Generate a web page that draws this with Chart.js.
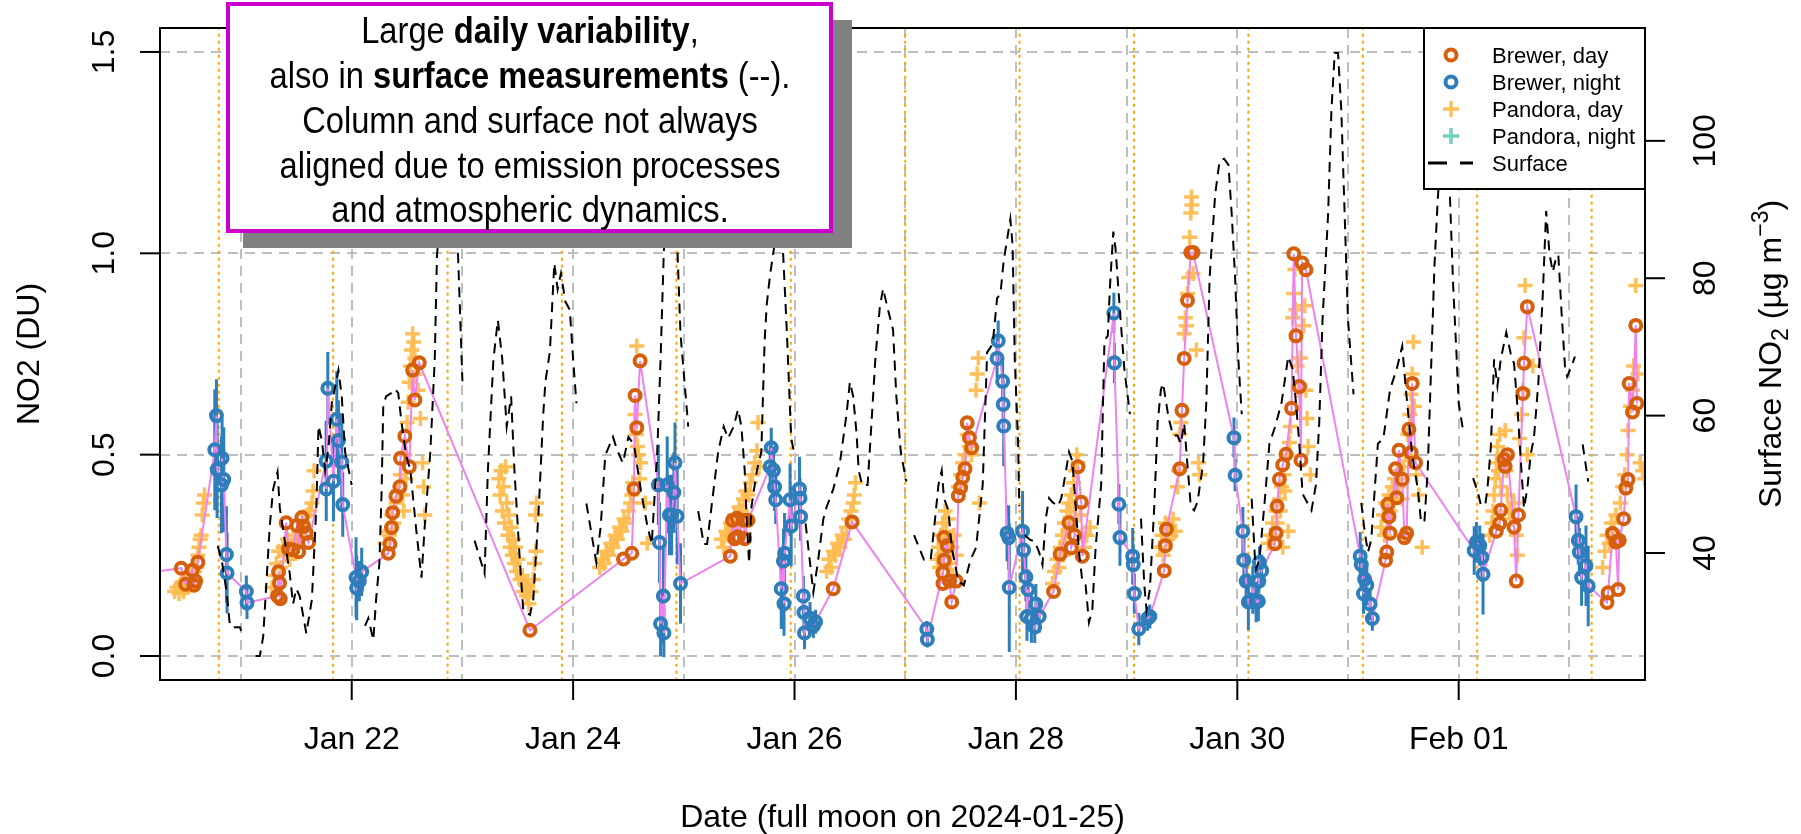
<!DOCTYPE html>
<html>
<head>
<meta charset="utf-8">
<title>NO2 column and surface</title>
<script src="https://cdn.jsdelivr.net/npm/chart.js@4.4.1/dist/chart.umd.min.js"></script>
<style>
html, body { margin: 0; padding: 0; background: #fff; }
#wrap { width: 1801px; height: 834px; }
</style>
</head>
<body>
<div id="wrap"><canvas id="no2Chart" width="1801" height="834"></canvas></div>
<script>
// time axis = days since 2024-01-20 00:00
const xTickDays = [2, 4, 6, 8, 10, 12];
const xTickLabels = ['Jan 22', 'Jan 24', 'Jan 26', 'Jan 28', 'Jan 30', 'Feb 01'];
const gridDays = [1, 2, 3, 4, 5, 6, 7, 8, 9, 10, 11, 12, 13];
const yTickVals = [0, 0.5, 1.0, 1.5];
const yTickLabels = ['0.0', '0.5', '1.0', '1.5'];
const y2TickVals = [40, 60, 80, 100];
const y2TickLabels = ['40', '60', '80', '100'];

// moon transit lines (orange dotted)
const moonTimes = [0.799, 1.832, 2.866, 3.899, 4.933, 5.966, 7.000, 8.033, 9.067, 10.100, 11.134, 12.167, 13.201];

// Brewer, day
const brewerDayTime = [
  0.10,
  0.46, 0.50, 0.56, 0.575, 0.59, 0.61,
  1.33, 1.339, 1.348, 1.354, 1.408, 1.429, 1.468, 1.505, 1.52, 1.55, 1.565, 1.589, 1.61,
  2.33, 2.345, 2.36, 2.37, 2.40, 2.435, 2.44, 2.48, 2.52, 2.55, 2.57, 2.61,
  3.61,
  4.455, 4.53, 4.55, 4.56, 4.575, 4.605,
  5.42, 5.44, 5.46, 5.48, 5.49, 5.54, 5.55, 5.58,
  6.35, 6.52,
  7.34, 7.341, 7.35, 7.352, 7.38, 7.40, 7.42, 7.46, 7.48, 7.50, 7.52, 7.54, 7.56, 7.58, 7.60,
  8.34, 8.40, 8.48, 8.50, 8.53, 8.56, 8.59, 8.60,
  9.34, 9.35, 9.36, 9.48, 9.50, 9.52, 9.55, 9.58, 9.60,
  10.34, 10.35, 10.36, 10.38, 10.41, 10.44, 10.49, 10.51, 10.53, 10.56, 10.575, 10.585, 10.62,
  11.34, 11.35, 11.36, 11.37, 11.38, 11.43, 11.44, 11.46, 11.49, 11.51, 11.53, 11.55, 11.57, 11.58, 11.61,
  12.34, 12.37, 12.38, 12.41, 12.42, 12.44, 12.50, 12.52, 12.54, 12.58, 12.59, 12.62,
  13.34, 13.35, 13.39, 13.42, 13.44, 13.45, 13.49, 13.51, 13.53, 13.54, 13.57, 13.60, 13.61
];
const brewerDayNO2 = [
  0.205,
  0.218, 0.178, 0.213, 0.176, 0.186, 0.233,
  0.149, 0.209, 0.181, 0.142, 0.331, 0.266, 0.264, 0.324, 0.259, 0.344, 0.322, 0.305, 0.282,
  0.255, 0.278, 0.319, 0.356, 0.397, 0.42, 0.491, 0.546, 0.47, 0.71, 0.636, 0.728,
  0.064,
  0.241, 0.255, 0.415, 0.647, 0.567, 0.733,
  0.248, 0.337, 0.291, 0.342, 0.296, 0.337, 0.291, 0.337,
  0.167, 0.333,
  0.207, 0.18, 0.294, 0.238, 0.274, 0.186, 0.134, 0.186, 0.398, 0.418, 0.444, 0.465, 0.579, 0.542, 0.517,
  0.16, 0.253, 0.331, 0.269, 0.30, 0.47, 0.382, 0.248,
  0.212, 0.274, 0.315, 0.465, 0.61, 0.739, 0.883, 1.002, 1.002,
  0.279, 0.305, 0.372, 0.439, 0.475, 0.501, 0.615, 0.999, 0.795, 0.669, 0.486, 0.976, 0.959,
  0.238, 0.258, 0.377, 0.346, 0.305, 0.465, 0.393, 0.511, 0.439, 0.294, 0.305, 0.563, 0.505, 0.677, 0.48,
  0.31, 0.329, 0.362, 0.488, 0.471, 0.5, 0.32, 0.186, 0.35, 0.652, 0.727, 0.867,
  0.133, 0.157, 0.304, 0.283, 0.165, 0.287, 0.341, 0.417, 0.438, 0.677, 0.606, 0.821, 0.627
];

// Brewer, night (with uncertainty)
const brewerNightTime = [
  0.763, 0.778, 0.784, 0.823, 0.829, 0.844, 0.868, 0.874, 1.048, 1.054,
  1.769, 1.770, 1.784, 1.835, 1.865, 1.880, 1.910, 1.919,
  2.039, 2.045, 2.069, 2.090,
  4.77, 4.78, 4.79, 4.815, 4.82, 4.85, 4.87, 4.89, 4.91, 4.92, 4.94, 4.97,
  5.78, 5.79, 5.81, 5.82, 5.83, 5.88, 5.90, 5.905, 5.91, 5.96, 5.97, 6.045, 6.05, 6.055, 6.08, 6.085, 6.09, 6.14, 6.17, 6.19,
  7.195, 7.20,
  7.83, 7.84, 7.88, 7.885, 7.89, 7.92, 7.935, 7.94, 8.06, 8.07, 8.09, 8.10, 8.11, 8.14, 8.17, 8.18, 8.21,
  8.885, 8.89, 8.93, 8.94, 9.055, 9.06, 9.07, 9.11, 9.19, 9.21,
  9.97, 9.98, 10.05, 10.06, 10.08, 10.10, 10.14, 10.17, 10.19, 10.195, 10.20, 10.22,
  11.11, 11.12, 11.14, 11.15, 11.17, 11.20, 11.22,
  12.14, 12.16, 12.19, 12.21, 12.22,
  13.06, 13.08, 13.09, 13.11, 13.15, 13.17
];
const brewerNightNO2 = [
  0.512, 0.597, 0.463, 0.425, 0.491, 0.438, 0.252, 0.206, 0.160, 0.132,
  0.484, 0.415, 0.665, 0.434, 0.588, 0.535, 0.482, 0.376,
  0.195, 0.169, 0.186, 0.209,
  0.425, 0.282, 0.080, 0.149, 0.057, 0.425, 0.350, 0.350, 0.406, 0.480, 0.347, 0.180,
  0.470, 0.517, 0.461, 0.420, 0.388, 0.167, 0.236, 0.130, 0.255, 0.388, 0.323, 0.415, 0.392, 0.346, 0.149, 0.108, 0.057, 0.094, 0.075, 0.085,
  0.067, 0.041,
  0.739, 0.783, 0.682, 0.625, 0.571, 0.305, 0.294, 0.170, 0.310, 0.263, 0.196, 0.098, 0.165, 0.093, 0.072, 0.129, 0.098,
  0.852, 0.728, 0.377, 0.294, 0.248, 0.227, 0.155, 0.067, 0.093, 0.098,
  0.542, 0.449, 0.310, 0.238, 0.186, 0.134, 0.165, 0.134, 0.136, 0.186, 0.232, 0.212,
  0.248, 0.227, 0.155, 0.191, 0.176, 0.129, 0.093,
  0.262, 0.283, 0.274, 0.245, 0.203,
  0.346, 0.287, 0.258, 0.195, 0.224, 0.174
];
const brewerNightErr = [
  0.15, 0.09, 0.12, 0.12, 0.10, 0.13, 0.12, 0.10, 0.04, 0.04,
  0.10, 0.08, 0.09, 0.10, 0.12, 0.10, 0.12, 0.08,
  0.10, 0.08, 0.05, 0.06,
  0.10, 0.10, 0.08, 0.12, 0.06, 0.12, 0.10, 0.10, 0.10, 0.10, 0.12, 0.10,
  0.06, 0.05, 0.06, 0.06, 0.06, 0.10, 0.08, 0.08, 0.10, 0.09, 0.10, 0.08, 0.05, 0.06, 0.05, 0.05, 0.04, 0.04, 0.03, 0.03,
  0.02, 0.02,
  0.05, 0.05, 0.05, 0.06, 0.10, 0.07, 0.08, 0.16, 0.10, 0.06, 0.06, 0.06, 0.05, 0.06, 0.04, 0.05, 0.04,
  0.05, 0.05, 0.05, 0.07, 0.07, 0.05, 0.05, 0.04, 0.03, 0.03,
  0.05, 0.04, 0.06, 0.06, 0.06, 0.07, 0.06, 0.05, 0.05, 0.05, 0.04, 0.04,
  0.06, 0.05, 0.05, 0.05, 0.05, 0.04, 0.03,
  0.06, 0.05, 0.05, 0.06, 0.10,
  0.08, 0.06, 0.06, 0.07, 0.10, 0.10
];

// Pandora, day
const pandoraDayTime = [
  0.40, 0.42, 0.44, 0.46, 0.48, 0.50, 0.52, 0.54, 0.56, 0.58, 0.60, 0.61, 0.62, 0.63, 0.64, 0.65, 0.66, 0.67,
  1.28, 1.30, 1.32, 1.34, 1.36, 1.38, 1.40, 1.42, 1.44, 1.46, 1.48, 1.50, 1.52, 1.54, 1.56, 1.58, 1.60, 1.62, 1.64, 1.65, 1.66,
  2.30, 2.32, 2.34, 2.36, 2.38, 2.40, 2.42, 2.44, 2.46, 2.47, 2.48, 2.49, 2.50, 2.51, 2.52, 2.53, 2.54, 2.55, 2.56, 2.57, 2.58, 2.60, 2.62, 2.64, 2.65, 2.66,
  3.33, 3.34, 3.35, 3.36, 3.37, 3.38, 3.39, 3.40, 3.41, 3.42, 3.43, 3.44, 3.45, 3.46, 3.47, 3.48, 3.49, 3.50, 3.52, 3.54, 3.55, 3.56, 3.58, 3.59, 3.60, 3.62, 3.64, 3.65, 3.66, 3.665, 3.67,
  4.24, 4.26, 4.28, 4.30, 4.32, 4.34, 4.36, 4.38, 4.40, 4.42, 4.44, 4.46, 4.48, 4.50, 4.52, 4.53, 4.54, 4.56, 4.57, 4.575, 4.58, 4.59, 4.60, 4.61, 4.65, 4.67,
  5.34, 5.36, 5.38, 5.40, 5.42, 5.44, 5.46, 5.48, 5.50, 5.52, 5.54, 5.56, 5.58, 5.60, 5.62, 5.64, 5.66, 5.67, 5.68,
  6.29, 6.31, 6.33, 6.35, 6.37, 6.39, 6.41, 6.43, 6.45, 6.47, 6.49, 6.51, 6.53, 6.54, 6.55,
  7.29, 7.30, 7.31, 7.32, 7.33, 7.34, 7.35, 7.36, 7.37, 7.38, 7.39, 7.40, 7.41, 7.42, 7.43, 7.44, 7.46, 7.48, 7.50, 7.52, 7.54, 7.56, 7.58, 7.60, 7.64, 7.65, 7.66, 7.67,
  8.33, 8.35, 8.37, 8.39, 8.40, 8.42, 8.43, 8.44, 8.45, 8.46, 8.47, 8.48, 8.49, 8.50, 8.52, 8.53, 8.54, 8.55, 8.56, 8.58, 8.60, 8.62, 8.64, 8.67,
  9.30, 9.32, 9.33, 9.35, 9.37, 9.38, 9.40, 9.42, 9.44, 9.46, 9.47, 9.48, 9.49, 9.52, 9.53, 9.54, 9.55, 9.56, 9.57, 9.58, 9.585, 9.59, 9.60, 9.63, 9.65, 9.66,
  10.28, 10.30, 10.32, 10.33, 10.35, 10.36, 10.38, 10.39, 10.40, 10.41, 10.42, 10.43, 10.45, 10.46, 10.47, 10.48, 10.50, 10.51, 10.52, 10.53, 10.54, 10.55, 10.57, 10.60, 10.61, 10.62, 10.63, 10.64, 10.66,
  11.30, 11.32, 11.33, 11.34, 11.36, 11.37, 11.38, 11.40, 11.41, 11.42, 11.44, 11.45, 11.46, 11.48, 11.49, 11.50, 11.52, 11.54, 11.56, 11.57, 11.58, 11.59, 11.60, 11.62, 11.64, 11.67,
  12.28, 12.30, 12.31, 12.32, 12.33, 12.34, 12.35, 12.36, 12.37, 12.38, 12.40, 12.42, 12.43, 12.44, 12.46, 12.48, 12.50, 12.52, 12.53, 12.55, 12.57, 12.58, 12.59, 12.60, 12.62, 12.67,
  13.30, 13.32, 13.34, 13.36, 13.38, 13.40, 13.42, 13.44, 13.46, 13.48, 13.50, 13.52, 13.53, 13.55, 13.57, 13.58, 13.60, 13.62, 13.64, 13.66, 13.68
];
const pandoraDayNO2 = [
  0.16, 0.17, 0.155, 0.18, 0.16, 0.19, 0.17, 0.20, 0.19, 0.21, 0.22, 0.25, 0.27, 0.29, 0.30, 0.35, 0.38, 0.40,
  0.17, 0.20, 0.23, 0.26, 0.22, 0.27, 0.25, 0.29, 0.24, 0.27, 0.30, 0.28, 0.31, 0.29, 0.33, 0.31, 0.35, 0.36, 0.38, 0.41, 0.46,
  0.28, 0.31, 0.30, 0.35, 0.33, 0.38, 0.41, 0.45, 0.40, 0.36, 0.50, 0.44, 0.58, 0.63, 0.68, 0.72, 0.76, 0.80, 0.78, 0.74, 0.70, 0.66, 0.59, 0.48, 0.42, 0.35,
  0.44, 0.40, 0.46, 0.36, 0.42, 0.33, 0.47, 0.38, 0.30, 0.35, 0.27, 0.32, 0.25, 0.29, 0.23, 0.27, 0.21, 0.24, 0.19, 0.20, 0.16, 0.18, 0.15, 0.17, 0.13, 0.16, 0.19, 0.23, 0.35, 0.26, 0.38,
  0.22, 0.24, 0.23, 0.26, 0.25, 0.28, 0.27, 0.30, 0.29, 0.32, 0.31, 0.34, 0.33, 0.36, 0.38, 0.40, 0.43, 0.60, 0.55, 0.77, 0.52, 0.50, 0.44, 0.48, 0.38, 0.28,
  0.29, 0.27, 0.31, 0.30, 0.33, 0.32, 0.35, 0.34, 0.37, 0.36, 0.39, 0.41, 0.40, 0.43, 0.45, 0.48, 0.51, 0.58, 0.47,
  0.21, 0.24, 0.22, 0.26, 0.25, 0.28, 0.27, 0.30, 0.29, 0.32, 0.34, 0.36, 0.38, 0.40, 0.43,
  0.24, 0.27, 0.22, 0.30, 0.25, 0.33, 0.28, 0.36, 0.31, 0.26, 0.34, 0.29, 0.23, 0.27, 0.20, 0.30, 0.25, 0.42, 0.45, 0.48, 0.50, 0.55, 0.52, 0.50, 0.66, 0.70, 0.74, 0.38,
  0.18, 0.21, 0.24, 0.22, 0.27, 0.30, 0.25, 0.33, 0.28, 0.36, 0.31, 0.38, 0.34, 0.40, 0.43, 0.37, 0.46, 0.50, 0.48, 0.35, 0.30, 0.27, 0.30, 0.32,
  0.27, 0.30, 0.25, 0.33, 0.29, 0.32, 0.30, 0.34, 0.31, 0.42, 0.46, 0.55, 0.58, 0.80, 0.84, 0.82, 0.90, 0.94, 1.04, 1.10, 1.14, 1.12, 0.95, 0.76, 0.48, 0.45,
  0.28, 0.30, 0.33, 0.30, 0.36, 0.33, 0.39, 0.36, 0.42, 0.27, 0.45, 0.41, 0.50, 0.31, 0.53, 0.57, 0.84, 0.90, 0.96, 0.86, 0.72, 0.66, 0.74, 0.82, 0.87, 0.66, 0.59, 0.52, 0.45,
  0.32, 0.35, 0.30, 0.38, 0.34, 0.40, 0.36, 0.42, 0.38, 0.44, 0.40, 0.46, 0.42, 0.44, 0.39, 0.47, 0.50, 0.55, 0.60, 0.65, 0.70, 0.78, 0.62, 0.45, 0.40, 0.27,
  0.30, 0.33, 0.36, 0.40, 0.44, 0.48, 0.52, 0.46, 0.55, 0.42, 0.50, 0.56, 0.46, 0.40, 0.36, 0.34, 0.38, 0.30, 0.25, 0.54, 0.60, 0.66, 0.79, 0.92, 0.50, 0.72,
  0.22, 0.26, 0.30, 0.28, 0.33, 0.31, 0.35, 0.29, 0.38, 0.42, 0.45, 0.50, 0.56, 0.62, 0.66, 0.72, 0.92, 0.70, 0.48, 0.46, 0.44
];

// Pandora, night (none in this period)
const pandoraNightTime = [];
const pandoraNightNO2 = [];

// Surface NO2 (ug m-3), null = no data
const surfaceTime = [
  0.79, 0.83, 0.87, 0.90, 0.92, 0.99, 1.02, 1.07,
  1.13, 1.17, 1.20, 1.23, 1.26, 1.29, 1.33, 1.35, 1.40, 1.44, 1.47, 1.50, 1.53, 1.59, 1.64, 1.68, 1.70, 1.73, 1.76, 1.79, 1.82, 1.88, 1.91, 1.94, 2.00, 2.06,
  2.12, 2.15, 2.195, 2.22, 2.25, 2.27, 2.285, 2.31, 2.36, 2.39, 2.42, 2.45, 2.49, 2.53, 2.58, 2.63, 2.66, 2.71, 2.75, 2.77, 2.83, 2.90, 2.96, 3.00, 3.05,
  3.11, 3.20, 3.23, 3.28, 3.32, 3.36, 3.40, 3.44, 3.47, 3.52, 3.55, 3.61, 3.64, 3.69, 3.73, 3.75, 3.79, 3.83, 3.86, 3.89, 3.93, 3.97, 4.00, 4.03, 4.07,
  4.12, 4.21, 4.25, 4.29, 4.36, 4.40, 4.45, 4.50, 4.55, 4.61, 4.67, 4.71, 4.76, 4.79, 4.82, 4.87, 4.93, 4.97, 5.04, 5.08,
  5.13, 5.18, 5.21, 5.25, 5.31, 5.36, 5.40, 5.45, 5.49, 5.52, 5.55, 5.57, 5.59, 5.61, 5.66, 5.70, 5.73, 5.75, 5.78, 5.84, 5.89, 5.93, 5.97, 6.00, 6.05,
  6.10, 6.17, 6.21, 6.26, 6.29, 6.35, 6.41, 6.47, 6.50, 6.53, 6.56, 6.58, 6.61, 6.66, 6.69, 6.73, 6.77, 6.80, 6.84, 6.89, 6.92, 6.96, 7.01, 7.05,
  7.08, 7.11, 7.17, 7.23, 7.27, 7.30, 7.33, 7.35, 7.39, 7.42, 7.48, 7.53, 7.59, 7.64, 7.70, 7.74, 7.79, 7.83, 7.86, 7.89, 7.95, 7.97, 7.99, 8.02, 8.03, 8.055,
  8.08, 8.13, 8.17, 8.21, 8.24, 8.27, 8.30, 8.33, 8.38, 8.41, 8.45, 8.48, 8.51, 8.54, 8.57, 8.60, 8.63, 8.66, 8.69, 8.72, 8.77, 8.80, 8.83, 8.85, 8.88, 8.90, 8.94, 8.98, 9.03, 9.08,
  9.13, 9.16, 9.18, 9.21, 9.25, 9.28, 9.31, 9.33, 9.38, 9.42, 9.46, 9.49, 9.52, 9.55, 9.58, 9.61, 9.64, 9.69, 9.72, 9.75, 9.80, 9.84, 9.88, 9.92, 9.95, 9.98, 10.01, 10.04, 10.08,
  10.13, 10.16, 10.17, 10.20, 10.25, 10.29, 10.34, 10.40, 10.46, 10.50, 10.53, 10.56, 10.59, 10.63, 10.67, 10.71, 10.74, 10.77, 10.82, 10.85, 10.88, 10.91, 10.94, 10.97, 11.00, 11.05, 11.09,
  11.12, 11.15, 11.18, 11.21, 11.27, 11.32, 11.38, 11.44, 11.49, 11.52, 11.58, 11.63, 11.66, 11.69, 11.72, 11.75, 11.78, 11.81, 11.85, 11.90, 11.95, 11.98, 12.00, 12.04, 12.09,
  12.13, 12.17, 12.20, 12.24, 12.26, 12.29, 12.32, 12.35, 12.38, 12.43, 12.47, 12.50, 12.53, 12.56, 12.59, 12.62, 12.65, 12.68, 12.72, 12.76, 12.79, 12.82, 12.85, 12.88, 12.90, 12.93, 12.96, 12.98, 13.02, 13.05, 13.09,
  13.12, 13.17
];
const surfaceNO2 = [
  41.0, 38.5, 34.3, 29.4, 29.2, 29.2, 27.8, null,
  25.0, 25.0, 27.8, 35.9, 44.0, 49.3, 51.8, 46.6, 41.3, 37.0, 32.6, 34.8, 33.7, 28.3, 33.2, 46.6, 58.5, 56.4, 52.0, 55.3, 61.8, 66.6, 62.8, 54.7, 49.9, null,
  29.4, 30.5, 27.3, 33.2, 38.5, 49.0, 61.4, 62.8, 63.3, 63.9, 63.3, 59.0, 54.3, 52.0, 43.8, 36.4, 44.0, 54.7, 68.2, 83.3, 94.2, 95.4, 83.6, 65.0, null,
  41.8, 37.0, 52.0, 68.2, 73.9, 68.2, 58.4, 62.8, 52.0, 38.5, 31.6, 31.0, 33.2, 46.6, 60.2, 65.0, 69.3, 82.2, 78.4, 80.7, 76.6, 75.4, 68.2, 61.8, null,
  47.2, 38.6, 44.0, 54.2, 56.9, 54.9, 53.1, 56.9, 55.8, 49.3, 44.0, 41.3, 54.7, 68.2, 84.2, 92.4, 89.5, 71.9, 58.4, null,
  46.1, 41.3, 41.3, 46.7, 54.7, 58.4, 56.7, 58.4, 60.9, 58.4, 52.0, 44.0, 38.5, 46.6, 52.0, 54.7, 70.9, 76.3, 80.6, 87.1, 86.0, 72.5, 56.7, 54.3, null,
  44.3, 34.3, 38.5, 44.9, 46.7, 49.3, 53.1, 60.2, 64.9, 62.8, 57.5, 52.0, 49.9, 49.9, 57.5, 68.2, 75.7, 78.5, 75.7, 72.5, 62.8, 54.7, 50.4, null,
  42.6, 41.4, 39.0, 39.0, 45.0, 49.9, 52.0, 48.0, 46.2, 40.8, 35.9, 35.3, 39.0, 40.8, 49.9, 69.2, 70.4, 77.1, 77.7, 82.6, 88.6, 84.8, 68.1, 56.0, 46.8, null,
  42.6, 41.9, 41.7, 40.1, 38.3, 45.0, 48.0, 47.4, 46.8, 48.0, 51.7, 54.7, 53.4, 46.8, 40.1, 35.9, 35.3, 29.9, 31.7, 40.8, 49.9, 71.0, 71.6, 78.9, 86.8, 84.3, 75.2, 66.7, 60.2, null,
  45.0, 35.3, 31.7, 34.7, 46.8, 58.9, 63.8, 64.7, 59.6, 57.1, 57.1, 55.9, 58.9, 52.8, 46.8, 46.2, 47.4, 52.8, 61.9, 80.1, 92.2, 97.1, 97.4, 96.5, 89.2, 80.1, 68.0, 60.2, null,
  47.9, 39.0, 37.7, 39.0, 48.0, 55.9, 58.3, 61.9, 68.6, 66.8, 61.9, 55.9, 48.6, 47.4, 46.2, 49.9, 58.9, 74.0, 89.2, 104.3, 112.8, 112.8, 104.3, 89.2, 74.0, 63.1, null,
  47.3, 43.2, 40.1, 41.9, 55.9, 56.7, 63.8, 66.8, 70.1, 64.3, 54.3, 49.4, 44.5, 44.5, 52.0, 66.6, 81.4, 91.3, 101.2, 101.2, 78.9, 69.0, 61.8, 57.8, null,
  50.9, 49.0, 47.0, 47.0, 49.4, 55.4, 68.2, 64.3, 68.2, 72.1, 69.0, 67.6, 61.4, 53.7, 46.5, 49.4, 54.3, 56.8, 64.9, 77.8, 89.8, 83.6, 80.9, 83.0, 83.4, 74.8, 67.2, 65.7, 67.2, 68.6, null,
  55.8, 50.4
];

const legendLabels = ['Brewer, day', 'Brewer, night', 'Pandora, day', 'Pandora, night', 'Surface'];
const noteLines = [
  [['Large ', false], ['daily variability', true], [',', false]],
  [['also in ', false], ['surface measurements', true], [' (--).', false]],
  [['Column and surface not always', false]],
  [['aligned due to emission processes', false]],
  [['and atmospheric dynamics.', false]]
];

// colours
const colDay = '#D65F0E';
const colNight = '#2E7EBB';
const colPanDay = 'rgba(253, 187, 76, 0.92)';
const colPanNight = '#74D1B9';
const colLink = '#EE82EE';

// helpers
function pairs(xs, ys) {
  const n = Math.min(xs.length, ys.length);
  const out = [];
  for (let i = 0; i < n; i++) out.push({ x: xs[i], y: ys[i] });
  return out;
}

const brewerDayPts = pairs(brewerDayTime, brewerDayNO2);
const brewerNightPts = pairs(brewerNightTime, brewerNightNO2);
const brewerAll = brewerDayPts.concat(brewerNightPts).sort((a, b) => a.x - b.x);

const errorSegs = [];
brewerNightPts.forEach((p, i) => {
    const e = brewerNightErr[i] || 0;
    errorSegs.push({ x: p.x, y: p.y - e }, { x: p.x, y: p.y + e }, { x: p.x, y: null });
});

const moonSegs = [];
moonTimes.forEach(t => {
    moonSegs.push({ x: t, y: -1 }, { x: t, y: 3 }, { x: t, y: null });
});

function rotText(ctx, txt, x, y) {
    ctx.save();
    ctx.translate(x, y);
    ctx.rotate(-Math.PI / 2);
    ctx.fillText(txt, 0, 0);
    ctx.restore();
}

const axisFont = '32px "Liberation Sans"';

// axes, box, legend and text box in the R style
const rDecor = {
    id: 'rDecor',
    afterDraw(chart) {
        const ctx = chart.ctx;
        const a = chart.chartArea;
        const xs = chart.scales.x, ys = chart.scales.y, y2s = chart.scales.y2;
        ctx.save();
        ctx.strokeStyle = '#000';
        ctx.fillStyle = '#000';
        ctx.lineWidth = 2;
        ctx.setLineDash([]);
        ctx.strokeRect(a.left, a.top, a.right - a.left, a.bottom - a.top);

        // bottom axis
        ctx.font = axisFont;
        ctx.textAlign = 'center';
        ctx.textBaseline = 'alphabetic';
        xTickDays.forEach((d, i) => {
            const px = xs.getPixelForValue(d);
            ctx.beginPath(); ctx.moveTo(px, a.bottom); ctx.lineTo(px, a.bottom + 20); ctx.stroke();
            ctx.fillText(xTickLabels[i], px, 749);
        });
        ctx.fillText('Date (full moon on 2024-01-25)', (a.left + a.right) / 2, 827);

        // left axis
        yTickVals.forEach((v, i) => {
            const py = ys.getPixelForValue(v);
            ctx.beginPath(); ctx.moveTo(a.left - 20, py); ctx.lineTo(a.left, py); ctx.stroke();
            rotText(ctx, yTickLabels[i], 113.5, py);
        });
        rotText(ctx, 'NO2 (DU)', 39, (a.top + a.bottom) / 2);

        // right axis
        y2TickVals.forEach((v, i) => {
            const py = y2s.getPixelForValue(v);
            ctx.beginPath(); ctx.moveTo(a.right, py); ctx.lineTo(a.right + 20, py); ctx.stroke();
            rotText(ctx, y2TickLabels[i], 1714.5, py);
        });
        // right title with sub/superscript
        const parts = [['Surface NO', 32, 0], ['2', 23, 7], [' (\u00B5g m', 32, 0], ['\u22123', 23, -13], [')', 32, 0]];
        let total = 0;
        parts.forEach(p => { ctx.font = p[1] + 'px "Liberation Sans"'; total += ctx.measureText(p[0]).width; });
        ctx.save();
        ctx.translate(1781, (a.top + a.bottom) / 2);
        ctx.rotate(-Math.PI / 2);
        ctx.textAlign = 'left';
        let cx = -total / 2;
        parts.forEach(p => {
            ctx.font = p[1] + 'px "Liberation Sans"';
            ctx.fillText(p[0], cx, p[2]);
            cx += ctx.measureText(p[0]).width;
        });
        ctx.restore();

        // legend
        const lx0 = 1424, ly0 = a.top, lx1 = a.right, ly1 = 189;
        ctx.fillStyle = '#fff';
        ctx.fillRect(lx0, ly0, lx1 - lx0, ly1 - ly0);
        ctx.strokeStyle = '#000';
        ctx.lineWidth = 2;
        ctx.strokeRect(lx0, ly0, lx1 - lx0, ly1 - ly0);
        const rowY = [55, 82, 109, 136, 163];
        const sx = 1451;
        ctx.lineWidth = 4;
        ctx.strokeStyle = colDay;
        ctx.beginPath(); ctx.arc(sx, rowY[0], 5.5, 0, Math.PI * 2); ctx.stroke();
        ctx.strokeStyle = colNight;
        ctx.beginPath(); ctx.arc(sx, rowY[1], 5.5, 0, Math.PI * 2); ctx.stroke();
        ctx.lineWidth = 3.5;
        [[colPanDay, rowY[2]], [colPanNight, rowY[3]]].forEach(c => {
            ctx.strokeStyle = c[0];
            ctx.beginPath();
            ctx.moveTo(sx - 8, c[1]); ctx.lineTo(sx + 8, c[1]);
            ctx.moveTo(sx, c[1] - 8); ctx.lineTo(sx, c[1] + 8);
            ctx.stroke();
        });
        ctx.strokeStyle = '#000';
        ctx.lineWidth = 3;
        ctx.setLineDash([19, 13]);
        ctx.beginPath(); ctx.moveTo(1428, rowY[4]); ctx.lineTo(1473, rowY[4]); ctx.stroke();
        ctx.setLineDash([]);
        ctx.fillStyle = '#000';
        ctx.font = '22px "Liberation Sans"';
        ctx.textAlign = 'left';
        legendLabels.forEach((t, i) => ctx.fillText(t, 1492, rowY[i] + 8));

        // annotation box with shadow
        ctx.fillStyle = '#808080';
        ctx.fillRect(243, 20, 852 - 243, 248 - 20);
        ctx.fillStyle = '#fff';
        ctx.fillRect(228, 4, 831 - 228, 231 - 4);
        ctx.strokeStyle = '#CC00CC';
        ctx.lineWidth = 4;
        ctx.strokeRect(228, 4, 831 - 228, 231 - 4);

        const fNorm = '36px "Liberation Sans"', fBold = 'bold 36px "Liberation Sans"';
        ctx.font = fNorm;
        const sxScale = 501 / ctx.measureText(noteLines[3][0][0]).width;
        const baselines = [43, 88, 133, 177.5, 222];
        ctx.fillStyle = '#000';
        ctx.textAlign = 'left';
        noteLines.forEach((line, li) => {
            let w = 0;
            line.forEach(seg => { ctx.font = seg[1] ? fBold : fNorm; w += ctx.measureText(seg[0]).width; });
            ctx.save();
            ctx.translate(530 - (w * sxScale) / 2, baselines[li]);
            ctx.scale(sxScale, 1);
            let off = 0;
            line.forEach(seg => {
                ctx.font = seg[1] ? fBold : fNorm;
                ctx.fillText(seg[0], off, 0);
                off += ctx.measureText(seg[0]).width;
            });
            ctx.restore();
        });
        ctx.restore();
    }
};

const gridStyle = { color: '#BEBEBE', lineWidth: 2, drawTicks: false };

new Chart(document.getElementById('no2Chart'), {
    type: 'scatter',
    data: {
        datasets: [
            {
                label: 'Surface', type: 'line', yAxisID: 'y2',
                data: pairs(surfaceTime, surfaceNO2),
                borderColor: '#000', borderWidth: 2, borderDash: [10, 7],
                pointRadius: 0, spanGaps: false, fill: false, order: 0
            },
            {
                label: 'Brewer, day', yAxisID: 'y', data: brewerDayPts,
                pointStyle: 'circle', pointRadius: 5.5, borderWidth: 4,
                borderColor: colDay, backgroundColor: 'rgba(0,0,0,0)', order: 1
            },
            {
                label: 'Brewer, night', yAxisID: 'y', data: brewerNightPts,
                pointStyle: 'circle', pointRadius: 5.5, borderWidth: 4,
                borderColor: colNight, backgroundColor: 'rgba(0,0,0,0)', order: 1
            },
            {
                label: 'Brewer link', type: 'line', yAxisID: 'y', data: brewerAll,
                borderColor: colLink, borderWidth: 2, pointRadius: 0, fill: false, order: 2
            },
            {
                label: 'Brewer night error', type: 'line', yAxisID: 'y', data: errorSegs,
                borderColor: colNight, borderWidth: 3, pointRadius: 0, spanGaps: false, fill: false, order: 3
            },
            {
                label: 'Pandora, day', yAxisID: 'y', data: pairs(pandoraDayTime, pandoraDayNO2),
                pointStyle: 'cross', pointRadius: 7.5, borderWidth: 3.5,
                borderColor: colPanDay, backgroundColor: colPanDay, order: 4
            },
            {
                label: 'Pandora, night', yAxisID: 'y', data: pairs(pandoraNightTime, pandoraNightNO2),
                pointStyle: 'cross', pointRadius: 7.5, borderWidth: 3.5,
                borderColor: colPanNight, backgroundColor: colPanNight, order: 4
            },
            {
                label: 'Moon', type: 'line', yAxisID: 'y', data: moonSegs,
                borderColor: '#FFA500', borderWidth: 2, borderDash: [3, 4],
                pointRadius: 0, spanGaps: false, fill: false, order: 6
            }
        ]
    },
    options: {
        responsive: false,
        devicePixelRatio: 1,
        animation: false,
        events: [],
        layout: { padding: { top: 28, left: 0, right: 0, bottom: 0 } },
        plugins: { legend: { display: false }, tooltip: { enabled: false } },
        scales: {
            x: {
                type: 'linear', position: 'bottom', min: 0.268, max: 13.683,
                ticks: { display: false },
                grid: gridStyle,
                border: { display: false, dash: [10, 7] },
                afterBuildTicks: s => { s.ticks = gridDays.map(v => ({ value: v })); },
                afterFit: s => { s.height = 154; }
            },
            y: {
                type: 'linear', position: 'left', min: -0.0596, max: 1.5595,
                ticks: { display: false },
                grid: gridStyle,
                border: { display: false, dash: [10, 7] },
                afterBuildTicks: s => { s.ticks = yTickVals.map(v => ({ value: v })); },
                afterFit: s => { s.width = 160; }
            },
            y2: {
                type: 'linear', position: 'right', min: 21.51, max: 116.43,
                ticks: { display: false },
                grid: { display: false, drawTicks: false },
                border: { display: false },
                afterFit: s => { s.width = 156; }
            }
        }
    },
    plugins: [rDecor]
});
</script>
</body>
</html>
